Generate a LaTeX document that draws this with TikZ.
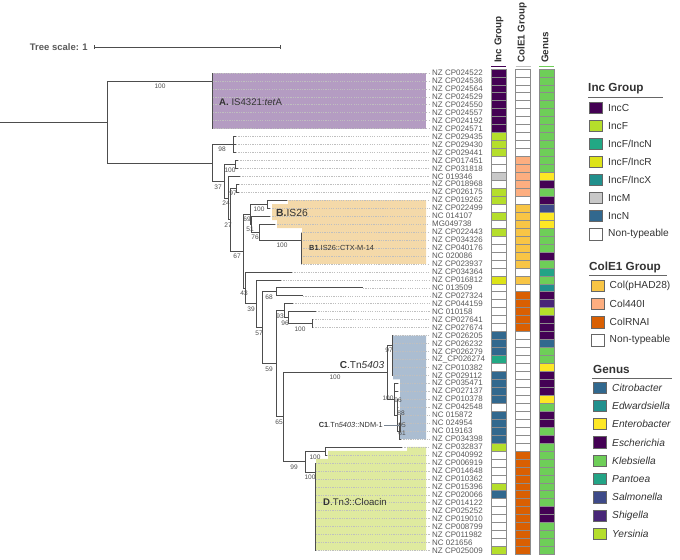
\documentclass[tikz,border=0pt]{standalone}
\usepackage{fontspec}
\setmainfont{Liberation Sans}
\usepackage{xcolor}
\usetikzlibrary{positioning}

\definecolor{txtgray}{HTML}{333333}
\definecolor{treegray}{HTML}{4D4D4D}
\definecolor{incC}{HTML}{440154}
\definecolor{incF}{HTML}{B5DE2B}
\definecolor{incFN}{HTML}{22A884}
\definecolor{incFR}{HTML}{DDE318}
\definecolor{incFX}{HTML}{21908D}
\definecolor{incM}{HTML}{C8C8C8}
\definecolor{incN}{HTML}{31688E}
\definecolor{colP}{HTML}{F8C545}
\definecolor{colI}{HTML}{FDAE80}
\definecolor{colR}{HTML}{D95F02}
\definecolor{gCit}{HTML}{31688E}
\definecolor{gEdw}{HTML}{21908D}
\definecolor{gEnt}{HTML}{FDE725}
\definecolor{gEsc}{HTML}{440154}
\definecolor{gKle}{HTML}{6ECE58}
\definecolor{gPan}{HTML}{23A486}
\definecolor{gSal}{HTML}{3E4A89}
\definecolor{gShi}{HTML}{482677}
\definecolor{gYer}{HTML}{B5DE2B}
\definecolor{hlA}{HTML}{B49CC2}
\definecolor{hlB}{HTML}{F4D9A9}
\definecolor{hlC}{HTML}{ABBDD1}
\definecolor{hlD}{HTML}{DFEA9F}

\begin{document}
\begin{tikzpicture}[
    x=0.03cm,
    y=-0.03cm,
    every node/.style={inner sep=0pt, text=txtgray},
    branch/.style={
        draw=treegray,
        line width=0.45pt
    },
    leader/.style={
        draw=black!25,
        line width=0.3pt,
        dash pattern=on 1pt off 1pt
    },
    leaf/.style={
        anchor=west,
        text=black!65,
        font=\fontsize{6.8}{7}\selectfont
    },
    boot/.style={
        text=black!70,
        font=\fontsize{5.6}{6}\selectfont
    },
    cell/.style={
        draw=black!45,
        line width=0.4pt,
        minimum width=0.45cm,
        minimum height=0.239cm
    },
    header/.style={
        rotate=90,
        anchor=west,
        font=\fontsize{8.4}{9}\selectfont\bfseries
    },
    swatch/.style={
        draw=black!60,
        line width=0.5pt,
        minimum width=0.4cm,
        minimum height=0.34cm
    },
    legtitle/.style={
        anchor=west,
        font=\fontsize{10}{11}\selectfont\bfseries
    },
    legitem/.style={
        anchor=west,
        font=\fontsize{8.7}{10}\selectfont
    },
    cladelab/.style={
        font=\fontsize{8.2}{9}\selectfont
    },
    sublab/.style={
        font=\fontsize{6.3}{7}\selectfont
    },
    pointer/.style={
        draw=black!30!hlC,
        line width=0.4pt
    }
]

\useasboundingbox (0,0) rectangle (680,559);

% ============================================================
% TREE SCALE
% ============================================================

\node[
    anchor=east,
    text=black!65,
    font=\fontsize{8.1}{9}\selectfont\bfseries
] (scaletxt) at (88,47)
{Tree scale: 1};

\coordinate (sc0) at (94,47);
\coordinate (scm) at (187,47);
\coordinate (sc1) at (280,47);

\draw[branch] (sc0) -- (sc1);
\draw[branch] ([yshift=-1.6pt]sc0) -- ([yshift=1.6pt]sc0);
\draw[branch] ([yshift=-1.6pt]sc1) -- ([yshift=1.6pt]sc1);
\draw[branch] (scm) -- ([yshift=-1pt]scm);

% ============================================================
% INNER NODES OF THE TREE
% ============================================================

\coordinate (root) at (0,122);
\coordinate (R) at (107,122);
\coordinate (A) at (212,81);
\coordinate (S1) at (212,162.9);
\coordinate (c98) at (233,144.5);
\coordinate (S2) at (224,181.2);
\coordinate (c100a) at (235,164.4);
\coordinate (S3) at (228,198);
\coordinate (S4) at (230,219.6);
\coordinate (c97) at (236,188.2);
\coordinate (S5) at (243,251);
\coordinate (B0) at (250,214.1);
\coordinate (Bt) at (267,204.2);
\coordinate (Bx) at (251,224);
\coordinate (Bm) at (259,232);
\coordinate (B1) at (301,240);
\coordinate (N43) at (245,287.8);
\coordinate (N39) at (256,303.7);
\coordinate (N57) at (262,327.7);
\coordinate (U68) at (276,291.7);
\coordinate (N59) at (276,363.7);
\coordinate (V93) at (284,310.6);
\coordinate (V96) at (288,317.6);
\coordinate (V100) at (312,323.5);
\coordinate (N65) at (283,416.7);
\coordinate (C0) at (387,372);
\coordinate (Ca) at (392,345);
\coordinate (Cb) at (394,399);
\coordinate (Cc) at (397,415);
\coordinate (Cd) at (399,431);
\coordinate (C1) at (400,423);
\coordinate (Dx) at (305,461.5);
\coordinate (Y) at (325,450.9);
\coordinate (Z) at (315,472);

% ============================================================
% CLADE HIGHLIGHTS
% ============================================================

\fill[hlA] (213,72.8) rectangle (426,128.5);

\fill[hlB] (288,200.2) -- (426,200.2) -- (426,263.8) -- (302,263.8)
    -- (302,228) -- (277,228) -- (277,220.1) -- (272,220.1)
    -- (272,204.2) -- (288,204.2) -- cycle;

\fill[hlC] (393,335.5) -- (426,335.5) -- (426,439) -- (400,439)
    -- (400,379.3) -- (393,379.3) -- cycle;

\fill[hlD] (407,446.9) -- (426,446.9) -- (426,550.4) -- (316,550.4)
    -- (316,458.9) -- (328,458.9) -- (328,450.9) -- (407,450.9) -- cycle;

% ============================================================
% BRANCHES
% ============================================================

\draw[branch] (root) -- (R);

\foreach \a/\b in {R/A, R/S1, S1/c98, S1/S2, S2/c100a, S2/S3, S3/S4,
    S4/c97, S4/S5, S5/B0, S5/N43, B0/Bt, B0/Bx, Bx/Bm, Bm/B1,
    N43/N39, N39/N57, N57/U68, N57/N59, N59/V93, N59/N65, V93/V96,
    V96/V100, N65/C0, N65/Dx, C0/Ca, C0/Cb, Cb/Cc, Cc/Cd, Cd/C1,
    Dx/Y, Dx/Z}
    \draw[branch] (\a) |- (\b);

% ============================================================
% LEAVES, LABELS AND DATA STRIPS
% ============================================================

\foreach \i/\nm/\inc/\col/\gen/\up/\tip in {
    1/NZ CP024522/incC/white/gKle/A/213,
    2/NZ CP024536/incC/white/gKle/A/213,
    3/NZ CP024564/incC/white/gKle/A/213,
    4/NZ CP024529/incC/white/gKle/A/213,
    5/NZ CP024550/incC/white/gKle/A/213,
    6/NZ CP024557/incC/white/gKle/A/213,
    7/NZ CP024192/incC/white/gKle/A/213,
    8/NZ CP024571/incC/white/gKle/A/213,
    9/NZ CP029435/incF/white/gKle/c98/236,
    10/NZ CP029430/incF/white/gKle/c98/236,
    11/NZ CP029441/incF/white/gKle/c98/236,
    12/NZ CP017451/white/colI/gKle/c100a/238,
    13/NZ CP031818/white/colI/gKle/c100a/238,
    14/NC 019346/incM/colI/gEnt/S3/240,
    15/NZ CP018968/white/colI/gEsc/c97/239,
    16/NZ CP026175/incF/colI/gKle/c97/239,
    17/NZ CP019262/incF/white/gEsc/Bt/287,
    18/NZ CP022499/white/colP/gSal/Bt/270,
    19/NC 014107/incF/colP/gEnt/Bx/270,
    20/MG049738/white/colP/gEnt/Bm/275,
    21/NZ CP022443/incF/colP/gKle/B1/301,
    22/NZ CP034326/white/colP/gKle/B1/301,
    23/NZ CP040176/white/colP/gKle/B1/301,
    24/NC 020086/white/colP/gEsc/B1/301,
    25/NZ CP023937/white/colP/gKle/B1/301,
    26/NZ CP034364/white/white/gPan/N43/292,
    27/NZ CP016812/incFR/colP/gKle/N39/281,
    28/NC 013509/white/white/gEdw/U68/363,
    29/NZ CP027324/white/colR/gEsc/U68/303,
    30/NZ CP044159/white/colR/gShi/V93/293,
    31/NC 010158/white/colR/gYer/V96/316,
    32/NZ CP027641/white/colR/gEsc/V100/313,
    33/NZ CP027674/white/colR/gEsc/V100/313,
    34/NZ CP026205/incN/white/gEsc/Ca/393,
    35/NZ CP026232/incN/white/gCit/Ca/393,
    36/NZ CP026279/incN/white/gKle/Ca/393,
    37/NZ\_CP026274/incFN/white/gKle/Ca/393,
    38/NZ CP010382/white/white/gEnt/Ca/393,
    39/NZ CP029112/incN/white/gEsc/Ca/393,
    40/NZ CP035471/incN/white/gEsc/Cb/398,
    41/NZ CP027137/incN/white/gEsc/Cb/398,
    42/NZ CP010378/incN/white/gEnt/Cc/398,
    43/NZ CP042548/white/white/gKle/Cc/398,
    44/NC 015872/incN/white/gEsc/C1/401,
    45/NC 024954/incN/white/gEsc/C1/401,
    46/NC 019163/incN/white/gKle/C1/401,
    47/NZ CP034398/incN/white/gEsc/Cd/401,
    48/NZ CP032837/incF/white/gKle/Y/402,
    49/NZ CP040992/white/colR/gKle/Y/327,
    50/NZ CP006919/white/colR/gKle/Z/316,
    51/NZ CP014648/white/colR/gKle/Z/316,
    52/NZ CP010362/white/colR/gKle/Z/316,
    53/NZ CP015396/incF/colR/gKle/Z/316,
    54/NZ CP020066/incN/colR/gKle/Z/316,
    55/NZ CP014122/white/colR/gKle/Z/316,
    56/NZ CP025252/white/colR/gEsc/Z/316,
    57/NZ CP019010/white/colR/gEsc/Z/316,
    58/NZ CP008799/white/colR/gKle/Z/316,
    59/NZ CP011982/white/colR/gKle/Z/316,
    60/NC 021656/white/colR/gKle/Z/316,
    61/NZ CP025009/incF/colR/gKle/Z/316}
{
    \pgfmathsetmacro\yy{72.8+(\i-1)*7.96}
    \coordinate (t\i) at (\tip,\yy);
    \node[leaf] (l\i) at (432,\yy) {\nm};
    \draw[branch] (\up) |- (t\i);
    \draw[leader, shorten >=2pt] (t\i) -- (l\i.west);
    \node[cell, fill=\inc] (inc\i) at (498.5,\yy) {};
    \node[cell, fill=\col] (col\i) at (523,\yy) {};
    \node[cell, fill=\gen] (gen\i) at (546.5,\yy) {};
}

% ============================================================
% BOOTSTRAP VALUES
% ============================================================

\foreach \n/\x/\y/\v in {
    1/160/86/100, 2/222/149/98, 3/218/187/37, 4/230/170/100,
    5/226/203/24, 6/233/193/97, 7/228/225/27, 8/237/256/67,
    9/247/219/69, 10/259/209/100, 11/250/229/51, 12/255/237/76,
    13/282/245/100, 14/244/293/43, 15/251/309/39, 16/259/333/57,
    17/269/297/68, 18/280/316/93, 19/285/323/96, 20/300/329/100,
    21/269/369/59, 22/279/422/65, 23/335/377/100, 24/389/350/97,
    25/388/398/100, 26/398/400/96, 27/401/413/88, 28/402/425/95,
    29/402/433/61, 30/294/467/99, 31/315/457/100, 32/310/477/100}
    \node[boot] (bs\n) at (\x,\y) {\v};

% ============================================================
% CLADE LABELS
% ============================================================

\node[cladelab, anchor=west] (labA) at (219,102)
{\textbf{A.} IS4321:\textit{tet}A};

\node[cladelab, anchor=west, font=\fontsize{8.8}{10}\selectfont] (labB) at (276,213)
{\textbf{B.}IS26};

\node[sublab, anchor=west] (labB1) at (309,248)
{\textbf{B1}.IS26::CTX-M-14};

\node[cladelab, font=\fontsize{8.6}{10}\selectfont] (labC) at (362,365)
{\textbf{C}.Tn\textit{5403}};

\node[sublab, anchor=east] (labC1) at (383,425)
{\textbf{C1}.Tn\textit{5403}::NDM-1};

\draw[pointer] ([xshift=1pt]labC1.east) -- (labC1.east -| C1);

\node[cladelab, anchor=west] (labD) at (323,502)
{\textbf{D}.Tn\textit{3}::Cloacin};

% ============================================================
% COLUMN HEADERS
% ============================================================

\node[header] (hInc) at (499,63) {Inc Group};
\node[header] (hCol) at (522,63) {ColE1 Group};
\node[header] (hGen) at (545,63) {Genus};

\draw[incC, line width=0.9pt] (491,66.5) -- (506,66.5);
\draw[black!25, line width=0.9pt] (515.5,66.5) -- (530.5,66.5);
\draw[gKle, line width=0.9pt] (539,66.5) -- (554,66.5);

% ============================================================
% LEGEND
% ============================================================

\node[legtitle] (tInc) at (588,89) {Inc Group};
\draw[black!60, line width=0.5pt] (588,97) -- (663,97);

\foreach \k/\c/\t in {0/incC/IncC, 1/incF/IncF, 2/incFN/IncF\slash IncN,
    3/incFR/IncF\slash IncR, 4/incFX/IncF\slash IncX, 5/incM/IncM,
    6/incN/IncN, 7/white/Non-typeable}
{
    \node[swatch, fill=\c] (swInc\k) at (596,107.5+\k*18.1) {};
    \node[legitem, right=4.3pt of swInc\k] (txInc\k) {\t};
}

\node[legtitle] (tCol) at (589,267) {ColE1 Group};
\draw[black!60, line width=0.5pt] (589,275) -- (667,275);

\foreach \k/\c/\t in {0/colP/Col(pHAD28), 1/colI/Col440I, 2/colR/ColRNAI,
    3/white/Non-typeable}
{
    \node[swatch, fill=\c] (swCol\k) at (597.5,286+\k*18.1) {};
    \node[legitem, right=4.3pt of swCol\k] (txCol\k) {\t};
}

\node[legtitle] (tGen) at (593,369) {Genus};
\draw[black!60, line width=0.5pt] (592,378) -- (672,378);

\foreach \k/\c/\t in {0/gCit/Citrobacter, 1/gEdw/Edwardsiella,
    2/gEnt/Enterobacter, 3/gEsc/Escherichia, 4/gKle/Klebsiella,
    5/gPan/Pantoea, 6/gSal/Salmonella, 7/gShi/Shigella, 8/gYer/Yersinia}
{
    \node[swatch, fill=\c] (swGen\k) at (600,387.5+\k*18.3) {};
    \node[legitem, right=4.3pt of swGen\k] (txGen\k) {\textit{\t}};
}

\end{tikzpicture}
\end{document}
